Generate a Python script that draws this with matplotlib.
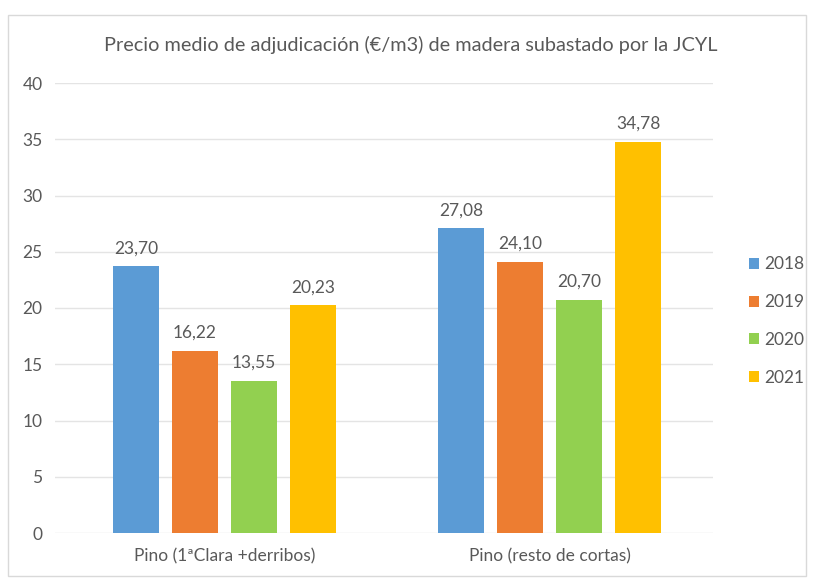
import matplotlib
matplotlib.use("Agg")
import matplotlib.pyplot as plt
from matplotlib.patches import Rectangle, Patch
import numpy as np

plt.rcParams['font.family'] = ['Lato', 'DejaVu Sans']

title = "Precio medio de adjudicación (€/m3) de madera subastado por la JCYL"
categories = ["Pino (1ªClara +derribos)", "Pino (resto de cortas)"]
years = ["2018", "2019", "2020", "2021"]
values = {
    "2018": [23.70, 27.08],
    "2019": [16.22, 24.10],
    "2020": [13.55, 20.70],
    "2021": [20.23, 34.78],
}
colors = ["#5B9BD5", "#ED7D31", "#92D050", "#FFC000"]
yticks = [0, 5, 10, 15, 20, 25, 30, 35, 40]

W, H = 814, 578
fig = plt.figure(figsize=(W / 100, H / 100), dpi=100)
fig.patch.set_facecolor("white")

# chart border
fig.add_artist(Rectangle((8 / W, 2 / H), 798 / W, 561 / H, transform=fig.transFigure,
                         fill=False, edgecolor="#D9D9D9", linewidth=1))

left, right, top, bottom = 55, 713, 83, 533
ax = fig.add_axes([left / W, (H - bottom) / H, (right - left) / W, (bottom - top) / H])

x = np.arange(len(categories))
bw = 46 / 325
step = 59 / 325
tc = "#595959"
fs = 12.5
for i, (yr, col) in enumerate(zip(years, colors)):
    offs = (i - 1.5) * step
    bars = ax.bar(x + offs, values[yr], width=bw, color=col, label=yr, zorder=3)
    for b, v in zip(bars, values[yr]):
        ax.text(b.get_x() + b.get_width() / 2, v + 0.9, f"{v:.2f}".replace(".", ","),
                ha="center", va="bottom", fontsize=fs, color=tc)

ax.set_xlim(-0.5215, 1.503)
ax.set_ylim(0, 40)
ax.set_yticks(yticks)
ax.set_yticklabels([str(t) for t in yticks])
ax.set_xticks(x)
ax.set_xticklabels(categories)
ax.tick_params(axis="both", length=0, labelsize=fs, labelcolor=tc)
ax.tick_params(axis="y", pad=9)
ax.tick_params(axis="x", pad=11)
ax.grid(axis="y", color="#E4E4E4", linewidth=1, zorder=0)
for s in ax.spines.values():
    s.set_visible(False)
ax.set_facecolor("none")

fig.text(411 / W, (H - 45) / H, title, ha="center", va="center", fontsize=14.3, color=tc)

handles = [Patch(facecolor=c, edgecolor="none") for c in colors]
leg = fig.legend(handles, years, loc="center left", bbox_to_anchor=(733 / W, (H - 321) / H),
                 frameon=False, fontsize=fs, labelcolor=tc, handlelength=0.6, handleheight=0.6,
                 handletextpad=0.3, labelspacing=1.25)

fig.savefig("out.png", dpi=100, facecolor="white")
